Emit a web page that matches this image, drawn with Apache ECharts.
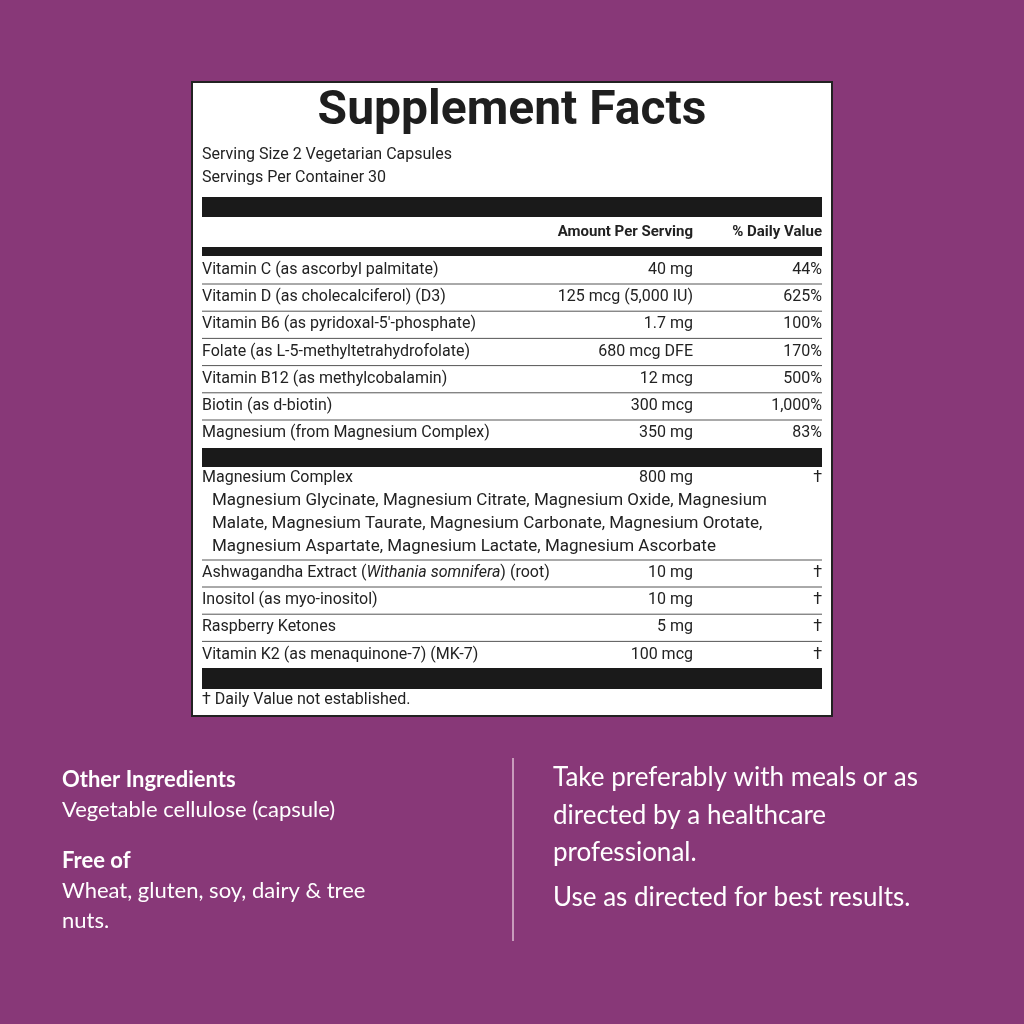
<!DOCTYPE html>
<html><head><meta charset="utf-8">
<script src="https://cdn.jsdelivr.net/npm/echarts@6/dist/echarts.min.js"></script>
<style>html,body{margin:0;padding:0;background:#883878}#c{width:1024px;height:1024px}</style>
</head><body><div id="c"></div>
<script>
const title = "Supplement Facts";
const servingLines = ["Serving Size 2 Vegetarian Capsules", "Servings Per Container 30"];
const headers = ["Amount Per Serving", "% Daily Value"];
const vitNames = ["Vitamin C (as ascorbyl palmitate)", "Vitamin D (as cholecalciferol) (D3)", "Vitamin B6 (as pyridoxal-5'-phosphate)", "Folate (as L-5-methyltetrahydrofolate)", "Vitamin B12 (as methylcobalamin)", "Biotin (as d-biotin)", "Magnesium (from Magnesium Complex)"];
const vitAmounts = ["40 mg", "125 mcg (5,000 IU)", "1.7 mg", "680 mcg DFE", "12 mcg", "300 mcg", "350 mg"];
const vitDV = ["44%", "625%", "100%", "170%", "500%", "1,000%", "83%"];
const complexName = "Magnesium Complex", complexAmount = "800 mg", complexDV = "†";
const complexLines = ["Magnesium Glycinate, Magnesium Citrate, Magnesium Oxide, Magnesium", "Malate, Magnesium Taurate, Magnesium Carbonate, Magnesium Orotate,", "Magnesium Aspartate, Magnesium Lactate, Magnesium Ascorbate"];
const otherNames = ["Ashwagandha Extract ({i|Withania somnifera}) (root)", "Inositol (as myo-inositol)", "Raspberry Ketones", "Vitamin K2 (as menaquinone-7) (MK-7)"];
const otherAmounts = ["10 mg", "10 mg", "5 mg", "100 mcg"];
const otherDV = ["†", "†", "†", "†"];
const footnote = "† Daily Value not established.";
const leftBlock = [["Other Ingredients", true], ["Vegetable cellulose (capsule)", false], ["Free of", true], ["Wheat, gluten, soy, dairy & tree", false], ["nuts.", false]];
const rightBlock = ["Take preferably with meals or as", "directed by a healthcare", "professional.", "Use as directed for best results."];

const F = 'Roboto', G = 'Lato';
const els = [];
const txt = (x, y, s, o) => els.push({type:'text', x, y, style:Object.assign({text:s, fill:'#222', font:`16px ${F}`, textVerticalAlign:'middle'}, o||{})});
const rect = (x, y, w, h, fill) => els.push({type:'rect', shape:{x, y, width:w, height:h}, style:{fill}});
const hl = (y) => els.push({type:'line', shape:{x1:202, y1:y, x2:822, y2:y}, style:{stroke:'#555', lineWidth:1}});

els.push({type:'rect', shape:{x:192, y:82, width:640, height:634}, style:{fill:'#fff', stroke:'#222', lineWidth:2}});
txt(512, 112, title, {font:`bold 48px ${F}`, textAlign:'center', fill:'#1e1e1e'});
servingLines.forEach((s, i) => txt(202, 155 + i*23, s));
rect(202, 197, 620, 20, '#1a1a1a');
txt(693, 232, headers[0], {font:`bold 15px ${F}`, textAlign:'right'});
txt(822, 232, headers[1], {font:`bold 15px ${F}`, textAlign:'right'});
rect(202, 247, 620, 9, '#1a1a1a');
vitNames.forEach((n, i) => {
  const y = 270 + i*27.2;
  txt(202, y, n); txt(693, y, vitAmounts[i], {textAlign:'right'}); txt(822, y, vitDV[i], {textAlign:'right'});
  if (i < vitNames.length-1) hl(y + 14);
});
rect(202, 448, 620, 19, '#1a1a1a');
txt(202, 478, complexName); txt(693, 478, complexAmount, {textAlign:'right'}); txt(822, 478, complexDV, {textAlign:'right'});
complexLines.forEach((s, i) => txt(212, 501 + i*23, s, {font:`17px ${F}`}));
hl(560);
otherNames.forEach((n, i) => {
  const y = 573 + i*27.2;
  txt(202, y, n, {rich:{i:{font:`italic 16px ${F}`, fill:'#222'}}});
  txt(693, y, otherAmounts[i], {textAlign:'right'}); txt(822, y, otherDV[i], {textAlign:'right'});
  if (i < otherNames.length-1) hl(y + 14);
});
rect(202, 668, 620, 21, '#1a1a1a');
txt(202, 700, footnote);

const ly = [780, 810, 861, 891, 921];
leftBlock.forEach(([s, b], i) => txt(62, ly[i], s, {fill:'#fff', font:`${b?'bold ':''}22px ${G}`}));
els.push({type:'line', shape:{x1:513, y1:758, x2:513, y2:941}, style:{stroke:'#c89cbc', lineWidth:2}});
const ry = [778, 816, 853, 898];
rightBlock.forEach((s, i) => txt(553, ry[i], s, {fill:'#fff', font:`26px ${G}`}));

const chart = echarts.init(document.getElementById('c'));
chart.setOption({backgroundColor:'#883878', graphic:{elements:els}});
</script></body></html>
